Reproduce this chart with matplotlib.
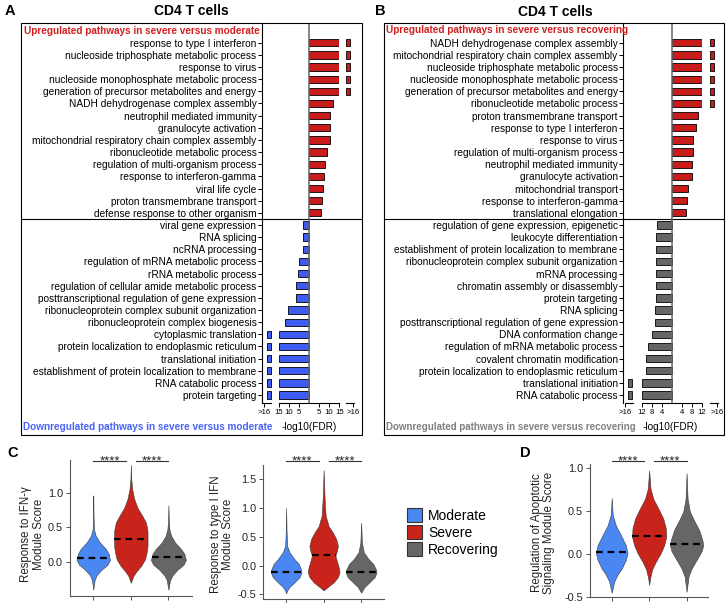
import numpy as np
import matplotlib
matplotlib.use("Agg")
import matplotlib.pyplot as plt
from matplotlib.patches import Rectangle, Patch
from matplotlib.transforms import blended_transform_factory

plt.rcParams["font.family"] = ["Liberation Sans", "DejaVu Sans"]
plt.rcParams["axes.unicode_minus"] = False

W, H = 727, 603
OVER = float("inf")  # off-scale bar, shown in the ">16" segment

# ---- panel A: severe vs moderate (-log10 FDR)
A_UP_TERMS = [
    "response to type I interferon",
    "nucleoside triphosphate metabolic process",
    "response to virus",
    "nucleoside monophosphate metabolic process",
    "generation of precursor metabolites and energy",
    "NADH dehydrogenase complex assembly",
    "neutrophil mediated immunity",
    "granulocyte activation",
    "mitochondrial respiratory chain complex assembly",
    "ribonucleotide metabolic process",
    "regulation of multi-organism process",
    "response to interferon-gamma",
    "viral life cycle",
    "proton transmembrane transport",
    "defense response to other organism",
]
A_UP_VALS = [OVER, OVER, OVER, OVER, OVER, 12.1, 10.2, 10.2, 10.2, 8.7, 7.7, 7.4, 7.0, 6.6, 6.2]
A_DOWN_TERMS = [
    "viral gene expression",
    "RNA splicing",
    "ncRNA processing",
    "regulation of mRNA metabolic process",
    "rRNA metabolic process",
    "regulation of cellular amide metabolic process",
    "posttranscriptional regulation of gene expression",
    "ribonucleoprotein complex subunit organization",
    "ribonucleoprotein complex biogenesis",
    "cytoplasmic translation",
    "protein localization to endoplasmic reticulum",
    "translational initiation",
    "establishment of protein localization to membrane",
    "RNA catabolic process",
    "protein targeting",
]
A_DOWN_VALS = [3.0, 3.1, 3.1, 5.1, 5.6, 6.6, 6.6, 10.3, 12.0, OVER, OVER, OVER, OVER, OVER, OVER]

# ---- panel B: severe vs recovering (-log10 FDR)
B_UP_TERMS = [
    "NADH dehydrogenase complex assembly",
    "mitochondrial respiratory chain complex assembly",
    "nucleoside triphosphate metabolic process",
    "nucleoside monophosphate metabolic process",
    "generation of precursor metabolites and energy",
    "ribonucleotide metabolic process",
    "proton transmembrane transport",
    "response to type I interferon",
    "response to virus",
    "regulation of multi-organism process",
    "neutrophil mediated immunity",
    "granulocyte activation",
    "mitochondrial transport",
    "response to interferon-gamma",
    "translational elongation",
]
B_UP_VALS = [OVER, OVER, OVER, OVER, OVER, OVER, 10.5, 9.9, 8.7, 8.5, 8.0, 8.0, 6.5, 6.1, 5.9]
B_DOWN_TERMS = [
    "regulation of gene expression, epigenetic",
    "leukocyte differentiation",
    "establishment of protein localization to membrane",
    "ribonucleoprotein complex subunit organization",
    "mRNA processing",
    "chromatin assembly or disassembly",
    "protein targeting",
    "RNA splicing",
    "posttranscriptional regulation of gene expression",
    "DNA conformation change",
    "regulation of mRNA metabolic process",
    "covalent chromatin modification",
    "protein localization to endoplasmic reticulum",
    "translational initiation",
    "RNA catabolic process",
]
B_DOWN_VALS = [5.9, 6.1, 6.3, 6.3, 6.3, 6.3, 6.3, 6.5, 6.5, 7.9, 9.6, 10.1, 10.1, OVER, OVER]

# ---- violin outlines: score levels and half widths
GROUPS = ["Moderate", "Severe", "Recovering"]
COLORS = ["#4b87f2", "#c9241b", "#666666"]

IFNG_LEVELS = [
    [0.96, 0.70, 0.47, 0.38, 0.28, 0.19, 0.12, 0.03, -0.04, -0.11, -0.19, -0.26, -0.40],
    [1.40, 1.20, 1.05, 0.91, 0.78, 0.66, 0.57, 0.45, 0.33, 0.23, 0.14, 0.04, -0.06, -0.13, -0.20, -0.30],
    [0.82, 0.60, 0.47, 0.38, 0.28, 0.19, 0.12, 0.03, -0.04, -0.11, -0.19, -0.26, -0.40],
]
IFNG_WIDTHS = [
    [0.0, 0.005, 0.018, 0.062, 0.178, 0.333, 0.409, 0.444, 0.378, 0.222, 0.089, 0.036, 0.0],
    [0.0, 0.01, 0.036, 0.089, 0.178, 0.311, 0.40, 0.444, 0.444, 0.444, 0.422, 0.378, 0.267, 0.156, 0.067, 0.0],
    [0.0, 0.01, 0.027, 0.071, 0.178, 0.333, 0.422, 0.467, 0.40, 0.244, 0.111, 0.044, 0.0],
]
IFNG_MEDIANS = [0.06, 0.33, 0.065]

IFN1_LEVELS = [
    [1.00, 0.60, 0.34, 0.23, 0.11, 0.03, -0.06, -0.12, -0.20, -0.29, -0.37, -0.42, -0.48],
    [1.65, 1.14, 0.86, 0.68, 0.57, 0.46, 0.34, 0.26, 0.17, 0.09, -0.03, -0.11, -0.20, -0.29, -0.37, -0.43],
    [0.74, 0.40, 0.23, 0.11, 0.03, -0.06, -0.12, -0.20, -0.29, -0.37, -0.47],
]
IFN1_WIDTHS = [
    [0.0, 0.01, 0.027, 0.089, 0.223, 0.335, 0.393, 0.41, 0.357, 0.223, 0.089, 0.036, 0.0],
    [0.0, 0.027, 0.054, 0.134, 0.246, 0.335, 0.38, 0.357, 0.313, 0.348, 0.402, 0.424, 0.38, 0.268, 0.112, 0.0],
    [0.0, 0.02, 0.07, 0.20, 0.32, 0.39, 0.41, 0.36, 0.22, 0.09, 0.0],
]
IFN1_MEDIANS = [-0.11, 0.18, -0.11]

APOP_LEVELS = [
    [0.65, 0.45, 0.33, 0.22, 0.10, 0.01, -0.07, -0.17, -0.24, -0.32, -0.45],
    [0.97, 0.76, 0.64, 0.53, 0.41, 0.30, 0.20, 0.10, 0.01, -0.09, -0.18, -0.28, -0.36],
    [0.94, 0.64, 0.49, 0.39, 0.28, 0.16, 0.10, 0.03, -0.07, -0.17, -0.26, -0.44],
]
APOP_WIDTHS = [
    [0.0, 0.027, 0.111, 0.244, 0.378, 0.422, 0.378, 0.267, 0.156, 0.067, 0.0],
    [0.0, 0.036, 0.111, 0.244, 0.378, 0.444, 0.458, 0.40, 0.311, 0.178, 0.08, 0.027, 0.0],
    [0.0, 0.027, 0.089, 0.20, 0.333, 0.422, 0.444, 0.40, 0.267, 0.133, 0.053, 0.0],
]
APOP_MEDIANS = [0.02, 0.21, 0.11]

STUB = (16.5, 17.8)   # drawn extent of off-scale bars inside the break segment
BREAK_TICK = 18.8


def rect(l, t, r, b):
    return [l / W, 1 - b / H, (r - l) / W, (b - t) / H]


def ftext(x, y, s, **kw):
    fig.text(x / W, 1 - y / H, s, **kw)


def bar_panel(up_terms, up_vals, down_terms, down_vals, down_color, lay):
    terms = up_terms + down_terms
    vals = np.array(up_vals + [-v for v in down_vals])
    rows = np.arange(len(terms))
    colors = ["#c81c1c"] * len(up_terms) + [down_color] * len(down_terms)
    n = len(terms)
    ylim = (n - 0.37, -1.6)
    top, bot = lay["top"], lay["bottom"]
    lim = lay["lim"]

    # left break segment, carries the term labels
    axl = fig.add_axes(rect(lay["spine"], top, lay["lb_right"], bot))
    # main segment
    axm = fig.add_axes(rect(lay["main"][0], top, lay["main"][1], bot))
    # right break segment
    axr = fig.add_axes(rect(lay["rb"][0], top, lay["rb"][1], bot))

    for ax in (axl, axm, axr):
        ax.set_ylim(*ylim)
        ax.patch.set_alpha(0)
        for s in ("top", "right"):
            ax.spines[s].set_visible(False)
        ax.spines["bottom"].set_linewidth(0.8)
        ax.tick_params(axis="x", length=3, width=0.7, pad=1.5, labelsize=5.6)

    clipped = np.clip(vals, -lim, lim)
    axm.barh(rows, clipped, height=0.6, color=colors, edgecolor="black", linewidth=0.6)
    axm.axvline(0, color="#666666", lw=1.1)
    axm.set_xlim(-lim, lim)
    axm.spines["left"].set_visible(False)
    axm.set_yticks([])
    ticks = lay["ticks"]
    axm.set_xticks([-t for t in ticks[::-1]] + ticks)
    axm.set_xticklabels([str(t) for t in ticks[::-1]] + [str(t) for t in ticks])

    neg = rows[np.isinf(vals) & (vals < 0)]
    pos = rows[np.isinf(vals) & (vals > 0)]
    axl.barh(neg, STUB[1] - STUB[0], left=-STUB[1], height=0.6,
             color=down_color, edgecolor="black", linewidth=0.6)
    axl.set_xlim(-19.5, -16)
    axl.spines["bottom"].set_bounds(-19.0, -16.2)
    axl.set_xticks([-BREAK_TICK])
    axl.set_xticklabels([">16"])
    axl.set_yticks(rows)
    axl.set_yticklabels(terms, fontsize=7.25)
    axl.spines["left"].set_linewidth(0.8)
    axl.tick_params(axis="y", length=3, width=0.7, pad=1)

    axr.barh(pos, STUB[1] - STUB[0], left=STUB[0], height=0.6,
             color="#c81c1c", edgecolor="black", linewidth=0.6)
    axr.set_xlim(16, 19.5)
    axr.spines["left"].set_visible(False)
    axr.spines["bottom"].set_bounds(16.2, 19.0)
    axr.set_yticks([])
    axr.set_xticks([BREAK_TICK])
    axr.set_xticklabels([">16"])

    bl, bt, br, bb = lay["box"]
    fig.add_artist(Rectangle((bl / W, 1 - bb / H), (br - bl) / W, (bb - bt) / H,
                             transform=fig.transFigure, fill=False, lw=0.8, ec="black"))
    tr = blended_transform_factory(fig.transFigure, axl.transData)
    axl.plot([bl / W, br / W], [len(up_terms) - 0.5] * 2, transform=tr,
             color="black", lw=0.8, clip_on=False)
    return axl


def violin_panel(ax, levels, widths, medians, ylim, yticks, xlim, sig_y):
    for i, (lv, wd, md) in enumerate(zip(levels, widths, medians)):
        p = i + 1
        lv = np.array(lv)
        wd = np.array(wd)
        ax.fill_betweenx(lv, p - wd, p + wd, facecolor=COLORS[i], edgecolor="#3a3a3a", lw=0.4)
        hw = np.interp(md, lv[::-1], wd[::-1])
        ax.plot([p - hw, p + hw], [md, md], color="black", lw=1.6, ls=(0, (3, 2.2)))
    ax.set_xlim(*xlim)
    ax.set_ylim(*ylim)
    ax.set_yticks(yticks)
    ax.set_yticklabels([f"{t:.1f}" for t in yticks])
    ax.set_xticks([1, 2, 3])
    ax.set_xticklabels([])
    for s in ("top", "right"):
        ax.spines[s].set_visible(False)
    for s in ("left", "bottom"):
        ax.spines[s].set_color("#555555")
        ax.spines[s].set_linewidth(0.8)
    ax.tick_params(length=3, width=0.7, colors="#555555", labelcolor="#222222", labelsize=7.8, pad=2)
    tr = blended_transform_factory(ax.transData, ax.transAxes)
    for x0, x1 in ((1.0, 1.87), (2.13, 3.0)):
        ax.plot([x0, x1], [sig_y, sig_y], transform=tr, color="#333333", lw=0.8, clip_on=False)
        ax.annotate("****", xy=((x0 + x1) / 2, sig_y), xycoords=tr, xytext=(0, -2.6),
                    textcoords="offset points", ha="center", va="baseline",
                    fontsize=9.5, color="#222222", annotation_clip=False)


fig = plt.figure(figsize=(W / 100, H / 100), dpi=100)

LAY_A = dict(box=(20.7, 23.3, 361.7, 435), spine=262, lb_right=272, main=(278.5, 339.3),
             rb=(345, 355), top=23.3, bottom=402.7, lim=15, ticks=[5, 10, 15])
LAY_B = dict(box=(384, 23.3, 723.5, 435), spine=623.3, lb_right=633.3, main=(641.7, 701.7),
             rb=(709, 719), top=23.3, bottom=402.7, lim=12, ticks=[4, 8, 12])

bar_panel(A_UP_TERMS, A_UP_VALS, A_DOWN_TERMS, A_DOWN_VALS, "#3e5cf2", LAY_A)
bar_panel(B_UP_TERMS, B_UP_VALS, B_DOWN_TERMS, B_DOWN_VALS, "#666666", LAY_B)

ftext(10, 11, "A", fontsize=10.5, fontweight="bold", ha="center", va="center")
ftext(380.7, 11, "B", fontsize=10.5, fontweight="bold", ha="center", va="center")
ftext(191, 11, "CD4 T cells", fontsize=10, fontweight="bold", ha="center", va="center")
ftext(555, 12, "CD4 T cells", fontsize=10, fontweight="bold", ha="center", va="center")
ftext(23.5, 30.5, "Upregulated pathways in severe versus moderate", fontsize=7.2,
      fontweight="bold", color="#d11f1f", va="center")
ftext(386, 29.7, "Upregulated pathways in severe versus recovering", fontsize=7.2,
      fontweight="bold", color="#d11f1f", va="center")
ftext(22.7, 426.7, "Downregulated pathways in severe versus moderate", fontsize=7.2,
      fontweight="bold", color="#4a63f5", va="center")
ftext(386, 426.7, "Downregulated pathways in severe versus recovering", fontsize=7.0,
      fontweight="bold", color="#808080", va="center")
ftext(309, 426.7, "-log10(FDR)", fontsize=7.2, ha="center", va="center")
ftext(670, 426.7, "-log10(FDR)", fontsize=7.2, ha="center", va="center")

# ---- C and D
ax_c1 = fig.add_axes(rect(70, 460, 191.7, 596))
violin_panel(ax_c1, IFNG_LEVELS, IFNG_WIDTHS, IFNG_MEDIANS, (-0.49, 1.47), [0.0, 0.5, 1.0],
             (0.38, 3.62), 0.993)
ax_c2 = fig.add_axes(rect(263.3, 465, 384, 598.5))
violin_panel(ax_c2, IFN1_LEVELS, IFN1_WIDTHS, IFN1_MEDIANS, (-0.57, 1.74),
             [-0.5, 0.0, 0.5, 1.0, 1.5], (0.39, 3.61), 1.03)
ax_d = fig.add_axes(rect(590, 464, 708.3, 597))
violin_panel(ax_d, APOP_LEVELS, APOP_WIDTHS, APOP_MEDIANS, (-0.5, 1.045),
             [-0.5, 0.0, 0.5, 1.0], (0.42, 3.58), 1.025)

ftext(12.7, 453.3, "C", fontsize=10.5, fontweight="bold", ha="center", va="center")
ftext(525, 453, "D", fontsize=10.5, fontweight="bold", ha="center", va="center")
ftext(32.5, 534, "Response to IFN-γ\nModule Score", fontsize=8.3, rotation=90,
      ha="center", va="center", linespacing=1.0, color="#222222")
ftext(222, 534, "Response to type I IFN\nModule Score", fontsize=8.3, rotation=90,
      ha="center", va="center", linespacing=1.0, color="#222222")
ftext(543, 533, "Regulation of Apoptotic\nSignaling Module Score", fontsize=8.3, rotation=90,
      ha="center", va="center", linespacing=1.0, color="#222222")

handles = [Patch(facecolor=c, edgecolor="#333333", linewidth=0.8) for c in COLORS]
fig.legend(handles, GROUPS, loc="upper left", bbox_to_anchor=(407 / W, 1 - 508 / H),
           frameon=False, fontsize=10, handlelength=1.1, handleheight=1.2,
           handletextpad=0.4, labelspacing=0.15, borderpad=0, borderaxespad=0)

fig.savefig("out.png", dpi=100)
